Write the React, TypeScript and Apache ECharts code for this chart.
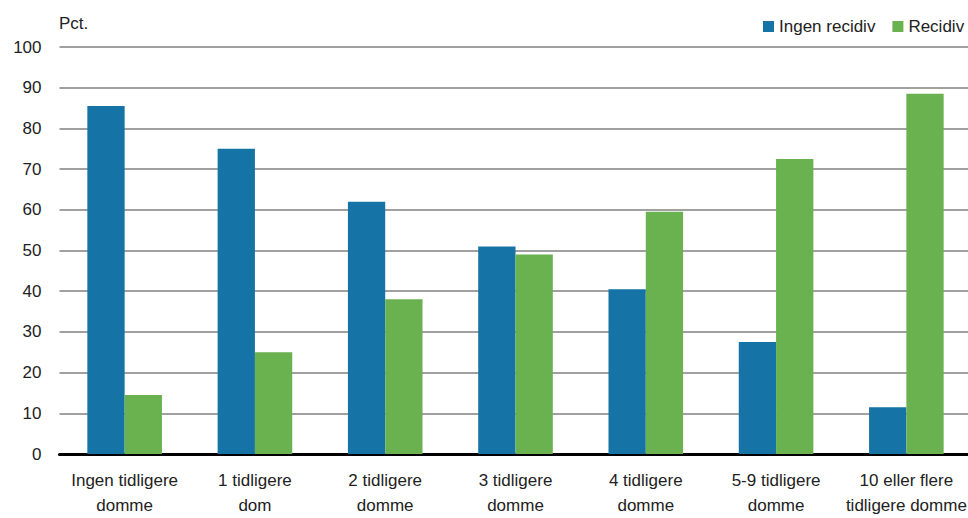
import React, { useEffect, useRef } from "react";
import * as echarts from "echarts";

const categories = [
  "Ingen tidligere\ndomme",
  "1 tidligere\ndom",
  "2 tidligere\ndomme",
  "3 tidligere\ndomme",
  "4 tidligere\ndomme",
  "5-9 tidligere\ndomme",
  "10 eller flere\ntidligere domme",
];
const ingenRecidiv = [85.5, 75, 62, 51, 40.5, 27.5, 11.5];
const recidiv = [14.5, 25, 38, 49, 59.5, 72.5, 88.5];
const seriesNames = ["Ingen recidiv", "Recidiv"];
const yUnit = "Pct.";

const FONT = "'Liberation Sans Narrow', 'Arial Narrow', 'Liberation Sans', sans-serif";
const FS = 17;

export default function App() {
  const ref = useRef<HTMLDivElement>(null);
  useEffect(() => {
    if (!ref.current) return;
    const chart = echarts.init(ref.current, undefined, { renderer: "svg" });
    chart.setOption({
      animation: false,
      textStyle: { fontFamily: FONT },
      legend: {
        left: 758,
        top: 13,
        width: 300,
        orient: "horizontal",
        itemWidth: 11,
        itemHeight: 11,
        itemGap: 17,
        icon: "rect",
        textStyle: { fontFamily: FONT, fontSize: FS, color: "#222" },
        data: seriesNames,
      },
      graphic: [
        {
          type: "text",
          left: 59,
          top: 15,
          style: { text: yUnit, font: `${FS}px ${FONT}`, fill: "#222" },
        },
      ],
      grid: { left: 59.5, width: 912, top: 47, bottom: 62 },
      xAxis: {
        type: "category",
        data: categories,
        axisLine: { lineStyle: { color: "#000", width: 3 } },
        axisTick: { show: false },
        axisLabel: {
          fontFamily: FONT,
          fontSize: FS,
          color: "#222",
          lineHeight: 25,
          margin: 14,
          interval: 0,
        },
      },
      yAxis: {
        type: "value",
        min: 0,
        max: 100,
        interval: 10,
        axisLine: { show: false },
        axisTick: { show: false },
        axisLabel: { fontFamily: FONT, fontSize: FS, color: "#222", margin: 18 },
        splitLine: { lineStyle: { color: "#a0a0a0", width: 2 } },
      },
      series: [
        {
          name: seriesNames[0],
          type: "bar",
          data: ingenRecidiv,
          barWidth: 37.3,
          barGap: "0%",
          itemStyle: { color: "#1673a5" },
        },
        {
          name: seriesNames[1],
          type: "bar",
          data: recidiv,
          barWidth: 37.3,
          itemStyle: { color: "#6ab24f" },
        },
      ],
    });
    return () => chart.dispose();
  }, []);
  return (
    <div style={{ width: 968, height: 518, position: "absolute", left: 0, top: 0, overflow: "hidden" }}>
      <div ref={ref} style={{ width: 1000, height: 518 }} />
    </div>
  );
}
